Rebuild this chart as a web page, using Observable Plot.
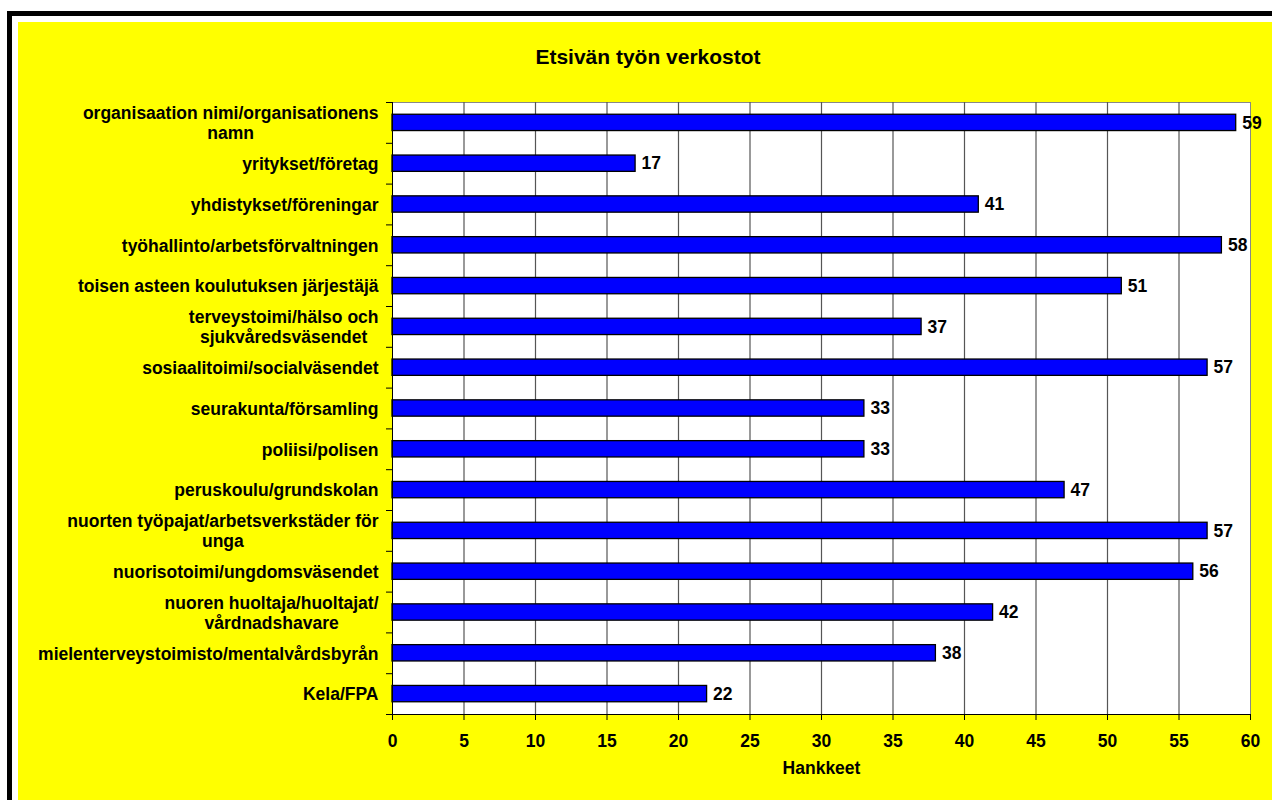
<!DOCTYPE html>
<html>
<head>
<meta charset="utf-8">
<script src="https://cdn.jsdelivr.net/npm/d3@7"></script>
<script src="https://cdn.jsdelivr.net/npm/@observablehq/plot@0.6"></script>
<style>
  html, body { margin: 0; padding: 0; background: #fff; width: 1272px; height: 800px; overflow: hidden; }
  #frame { position: absolute; left: 7px; top: 11px; right: 0; bottom: 0; border-left: 5px solid #000; border-top: 5px solid #000; }
  #panel { position: absolute; left: 18px; top: 22px; width: 1254px; height: 778px; background: #ffff00; }
  #title { height: 58px; line-height: 70px; text-align: center; font-family: "Liberation Sans", Arial, sans-serif; font-weight: bold; font-size: 21px; color: #000; padding-left: 6px; }
  #chart svg { display: block; }
</style>
</head>
<body>
<div id="frame"></div>
<div id="panel">
  <div id="title">Etsivän työn verkostot</div>
  <div id="chart"></div>
</div>
<script>
const categories = [
  "organisaation nimi/organisationens\nnamn",
  "yritykset/företag",
  "yhdistykset/föreningar",
  "työhallinto/arbetsförvaltningen",
  "toisen asteen koulutuksen järjestäjä",
  "terveystoimi/hälso och\nsjukvåredsväsendet",
  "sosiaalitoimi/socialväsendet",
  "seurakunta/församling",
  "poliisi/polisen",
  "peruskoulu/grundskolan",
  "nuorten työpajat/arbetsverkstäder för\nunga",
  "nuorisotoimi/ungdomsväsendet",
  "nuoren huoltaja/huoltajat/\nvårdnadshavare",
  "mielenterveystoimisto/mentalvårdsbyrån",
  "Kela/FPA"
];
const values = [59, 17, 41, 58, 51, 37, 57, 33, 33, 47, 57, 56, 42, 38, 22];
const xTicks = [0, 5, 10, 15, 20, 25, 30, 35, 40, 45, 50, 55, 60];
const xLabel = "Hankkeet";

const W = 1254, H = 720, mt = 22, mb = 86, ml = 374, mr = 22;
const FONT = "'Liberation Sans', Arial, sans-serif";
const FS = 17.5;
const step = (H - mt - mb) / categories.length;
const rows = categories.map((c, i) => ({cat: c, v: values[i]}));

const ctx = document.createElement("canvas").getContext("2d");
ctx.font = "bold " + FS + "px " + FONT;
const blockWidth = s => Math.max(...s.split("\n").map(l => ctx.measureText(l).width));

const labelMarks = categories.map(c =>
  Plot.text([c], {y: d => d, text: d => d, frameAnchor: "left", textAnchor: "middle",
    dx: -14 - blockWidth(c) / 2, lineHeight: 1.12, fill: "#000"})
);

const chart = Plot.plot({
  width: W, height: H,
  marginTop: mt, marginBottom: mb, marginLeft: ml, marginRight: mr,
  style: {fontFamily: FONT, fontSize: FS + "px", fontWeight: "bold", background: "transparent", overflow: "visible", color: "#000"},
  x: {domain: [0, 60]},
  y: {domain: categories, paddingInner: 0.6, paddingOuter: 0.3, round: false},
  marks: [
    Plot.frame({fill: "#fff", stroke: "#888"}),
    Plot.ruleX(xTicks.slice(1, -1), {stroke: "#555", strokeWidth: 1.2}),
    Plot.barX(rows, {x: "v", y: "cat", fill: "#0000ff", stroke: "#000", strokeWidth: 1.3}),
    Plot.frame({anchor: "bottom", stroke: "#000"}),
    Plot.frame({anchor: "left", stroke: "#000"}),
    Plot.axisX({ticks: xTicks, tickSize: 6, tickPadding: 14, label: null, fontWeight: "bold", fontSize: FS}),
    Plot.axisY({tickSize: 6, tickFormat: () => "", dy: -step / 2, label: null}),
    Plot.axisY([categories[categories.length - 1]], {tickSize: 6, tickFormat: () => "", dy: step / 2, label: null}),
    ...labelMarks,
    Plot.text(rows, {x: "v", y: "cat", text: d => String(d.v), dx: 6, textAnchor: "start", fill: "#000"}),
    Plot.text([xLabel], {text: d => d, frameAnchor: "bottom", dy: 59, fill: "#000"})
  ]
});
document.getElementById("chart").appendChild(chart);
</script>
</body>
</html>
